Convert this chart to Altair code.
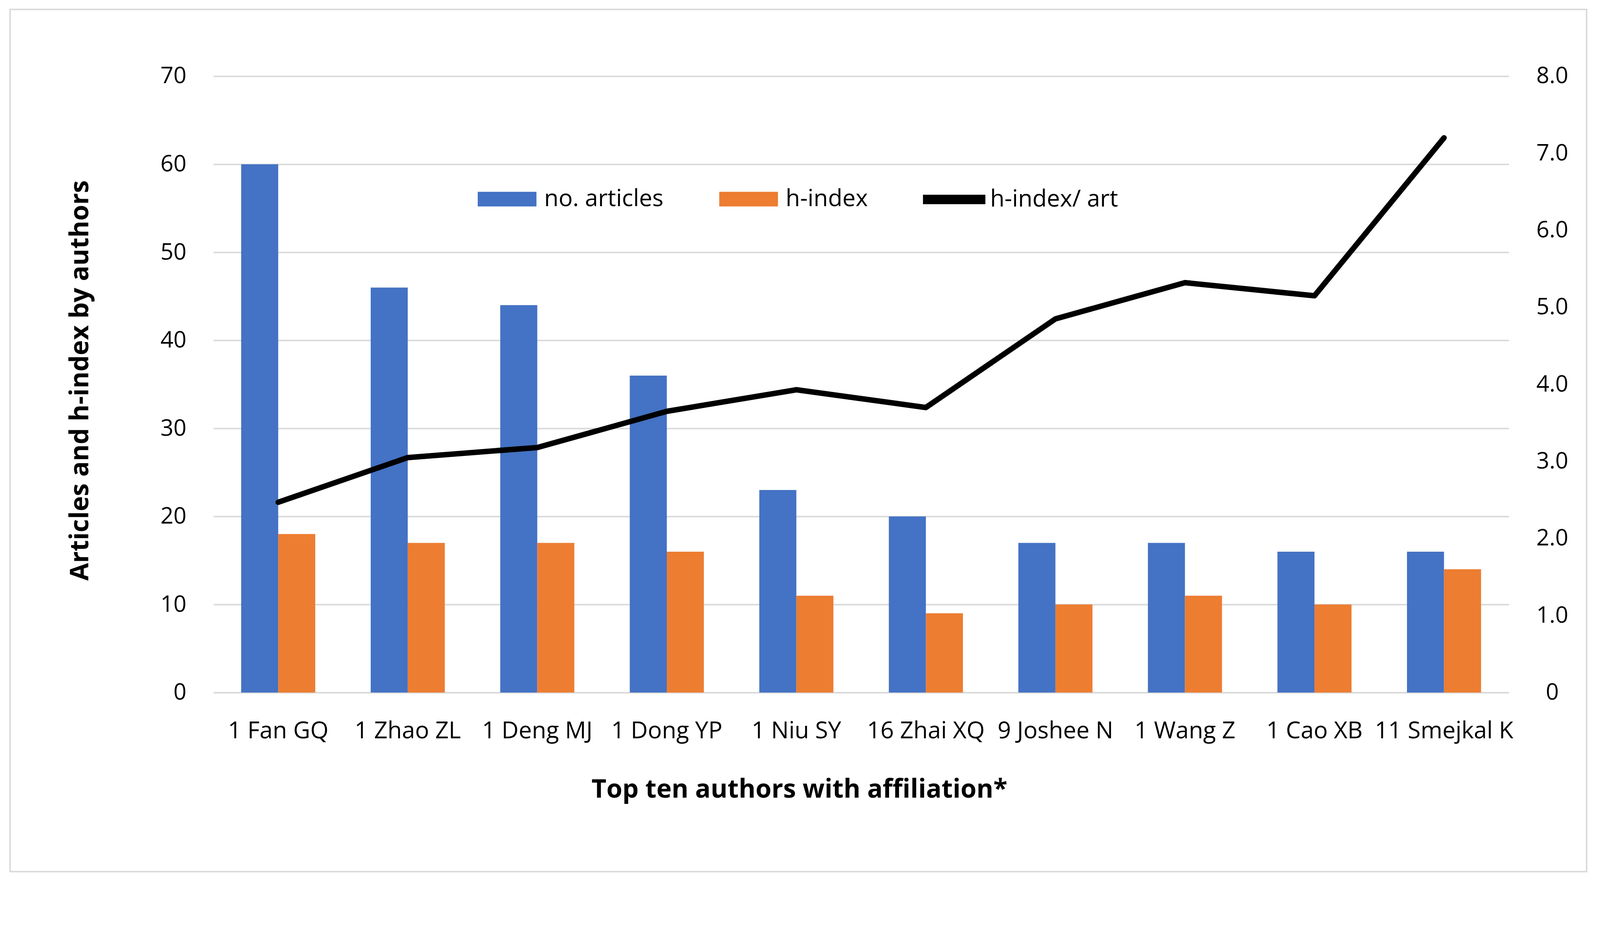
import altair as alt
import pandas as pd

# ---- data ----
authors = ["1 Fan GQ", "1 Zhao ZL", "1 Deng MJ", "1 Dong YP", "1 Niu SY",
           "16 Zhai XQ", "9 Joshee N", "1 Wang Z", "1 Cao XB", "11 Smejkal K"]
articles = [60, 46, 44, 36, 23, 20, 17, 17, 16, 16]
hindex = [18, 17, 17, 16, 11, 9, 10, 11, 10, 14]
ratio = [2.47, 3.05, 3.18, 3.65, 3.93, 3.70, 4.85, 5.32, 5.15, 7.20]

bar_series = ["no. articles", "h-index"]
line_series = "h-index/ art"
left_ticks = [0, 10, 20, 30, 40, 50, 60, 70]
right_ticks = [0, 1, 2, 3, 4, 5, 6, 7, 8]

BLUE = "#4472C4"
ORANGE = "#ED7D31"
GRID = "#D9D9D9"
FONT = "Open Sans"

bar_df = pd.DataFrame({
    "author": authors * 2,
    "series": [bar_series[0]] * len(authors) + [bar_series[1]] * len(authors),
    "value": articles + hindex,
})
line_df = pd.DataFrame({
    "author": authors,
    "ratio": ratio,
    "series": [line_series] * len(authors),
})

x_axis = alt.Axis(
    title="Top ten authors with affiliation*",
    labelAngle=0, labelFont=FONT, labelFontSize=64, labelColor="#000000",
    labelBaseline="alphabetic", labelPadding=124, labelLimit=2000,
    ticks=False, tickSize=0, domain=False, grid=False,
    titleFont=FONT, titleFontSize=70, titleFontWeight="bold", titleColor="#000000",
    titleX=1596, titleY=286, titleAlign="center", titleBaseline="alphabetic", titleAngle=0,
)
x_enc = alt.X("author:N", sort=authors,
              scale=alt.Scale(paddingInner=0.428, paddingOuter=0.214),
              axis=x_axis)

bars = alt.Chart(bar_df).mark_bar().encode(
    x=x_enc,
    xOffset=alt.XOffset("series:N", sort=bar_series),
    y=alt.Y("value:Q",
            scale=alt.Scale(domain=[0, 70], nice=False, zero=True),
            axis=alt.Axis(
                values=left_ticks, title="Articles and h-index by authors",
                labelFont=FONT, labelFontSize=62, labelColor="#000000",
                labelPadding=74, labelAlign="right", labelBaseline="middle",
                ticks=False, tickSize=0, domain=False,
                grid=True, gridColor=GRID, gridWidth=4,
                titleFont=FONT, titleFontSize=70, titleFontWeight="bold", titleColor="#000000",
                titleAngle=270, titleX=-341, titleY=829, titleAlign="center",
                titleBaseline="alphabetic", titleLimit=3000,
            )),
    color=alt.Color("series:N",
                    scale=alt.Scale(domain=bar_series, range=[BLUE, ORANGE]),
                    legend=alt.Legend(
                        title=None, orient="none", legendX=720, legendY=255,
                        direction="horizontal",
                        symbolType="M-1,-0.25H1V0.25H-1Z", symbolSize=25600,
                        symbolStrokeWidth=0,
                        labelFont=FONT, labelFontSize=64, labelColor="#000000",
                        labelOffset=21, labelLimit=2000, columnPadding=151, padding=0,
                    )),
)

line = alt.Chart(line_df).mark_line(strokeWidth=15, strokeCap="round", strokeJoin="round").encode(
    x=x_enc,
    y=alt.Y("ratio:Q",
            scale=alt.Scale(domain=[0, 8], nice=False, zero=True),
            axis=alt.Axis(
                orient="right", values=right_ticks, title=None,
                labelExpr="datum.value == 0 ? '0' : format(datum.value, '.1f')",
                labelFont=FONT, labelFontSize=62, labelColor="#000000",
                labelPadding=118, labelAlign="center", labelBaseline="middle",
                ticks=False, tickSize=0, domain=False, grid=False,
            )),
    stroke=alt.Stroke("series:N",
                      scale=alt.Scale(domain=[line_series], range=["#000000"]),
                      legend=alt.Legend(
                          title=None, orient="none", legendX=1920, legendY=238,
                          symbolType="stroke", symbolSize=28900, symbolStrokeWidth=26,
                          symbolStrokeColor="#000000",
                          labelFont=FONT, labelFontSize=64, labelColor="#000000",
                          labelOffset=0, labelLimit=2000, padding=0,
                      )),
)

frame = alt.Chart(pd.DataFrame({"k": [0]})).mark_rect(
    filled=False, stroke=GRID, strokeWidth=4
).encode(
    x=alt.value(-554), x2=alt.value(3741), y=alt.value(-182), y2=alt.value(2168)
)

chart = alt.layer(frame, bars, line).resolve_scale(
    y="independent"
).properties(
    width=3529, height=1680,
    autosize=alt.AutoSizeParams(type="none"),
    padding={"left": 573, "top": 125, "right": 240, "bottom": 505},
    background="white",
).configure_view(stroke=None)

chart.save("out.html", embed_options={"renderer": "svg", "actions": False})
